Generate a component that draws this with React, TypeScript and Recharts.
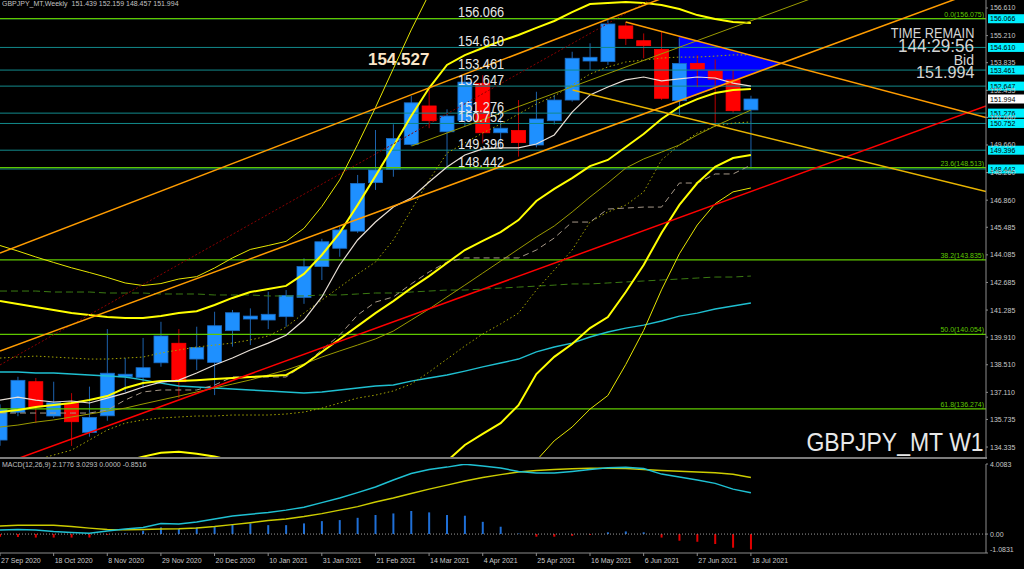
import React from 'react';
import {
  ComposedChart,
  Bar,
  Line,
  XAxis,
  YAxis,
  Cell,
  ReferenceLine,
  ReferenceArea,
  ReferenceDot,
} from 'recharts';

// ─── Data (weekly GBPJPY, 27 Sep 2020 … 18 Jul 2021) ─────────────────────────

const DATE_TICK_IDX = [0, 3, 6, 9, 12, 15, 18, 21, 24, 27, 30, 33, 36, 39, 42];
const DATE_LABELS = [
  '27 Sep 2020', '18 Oct 2020', '8 Nov 2020', '29 Nov 2020', '20 Dec 2020',
  '10 Jan 2021', '31 Jan 2021', '21 Feb 2021', '14 Mar 2021', '4 Apr 2021',
  '25 Apr 2021', '16 May 2021', '6 Jun 2021', '27 Jun 2021', '18 Jul 2021',
];

const OPEN = [134.69, 136.10, 137.65, 135.91, 136.55, 135.08, 135.92, 137.90, 137.87, 138.61, 139.60, 138.80, 138.63, 140.24, 140.83, 140.78, 140.95, 141.93, 143.49, 144.42, 145.29, 147.75, 148.43, 149.69, 151.64, 150.33, 150.90, 152.79, 150.28, 150.39, 149.66, 150.89, 151.94, 153.92, 153.89, 155.70, 154.95, 154.51, 151.91, 153.80, 153.41, 152.96, 151.439];
const HIGH = [136.50, 137.90, 137.84, 137.65, 137.07, 137.40, 140.32, 138.85, 139.87, 140.69, 140.32, 140.44, 141.20, 141.29, 141.37, 142.22, 142.30, 143.91, 144.90, 145.50, 148.14, 150.42, 150.71, 152.14, 152.45, 151.47, 153.25, 153.21, 151.35, 151.94, 152.36, 152.20, 154.39, 154.82, 156.00, 155.91, 155.32, 155.41, 155.07, 154.22, 154.01, 153.46, 152.159];
const LOW = [134.40, 135.90, 135.55, 135.81, 134.39, 134.86, 135.67, 137.14, 137.33, 138.41, 136.82, 138.24, 136.97, 139.43, 139.51, 140.32, 140.44, 141.60, 142.81, 143.99, 145.20, 147.38, 148.05, 149.60, 150.51, 148.56, 150.60, 149.74, 149.54, 149.07, 149.54, 150.70, 151.86, 153.46, 153.72, 154.73, 154.06, 151.95, 151.18, 152.59, 150.67, 151.30, 148.457];
const CLOSE = [136.26, 137.72, 136.38, 136.58, 135.62, 135.84, 138.08, 138.03, 138.36, 139.97, 137.65, 139.39, 140.49, 141.15, 140.98, 141.07, 142.03, 143.49, 144.75, 145.35, 147.71, 148.39, 149.99, 151.80, 150.89, 151.13, 152.85, 150.28, 150.51, 149.78, 150.98, 151.94, 154.06, 154.11, 155.80, 155.07, 154.70, 152.03, 153.80, 153.51, 153.00, 151.40, 151.994];

// Bollinger-style bands
const BAND_MID = [136.11, 136.21, 136.37, 136.47, 136.57, 136.72, 136.92, 137.33, 137.58, 137.68, 137.68, 137.73, 137.79, 137.84, 137.89, 137.94, 137.99, 138.50, 139.16, 139.82, 140.47, 141.13, 141.74, 142.40, 143.01, 143.67, 144.33, 144.79, 145.24, 145.85, 146.82, 147.43, 147.98, 148.59, 148.90, 149.56, 150.22, 150.98, 151.59, 151.99, 152.30, 152.45, 152.50];
const BAND_UP2 = [141.74, 141.59, 141.44, 141.29, 141.14, 141.03, 140.93, 140.88, 140.88, 140.98, 141.13, 141.23, 141.54, 141.90, 142.20, 142.35, 142.51, 143.12, 144.08, 145.20, 146.61, 148.08, 149.60, 151.13, 152.55, 153.72, 154.22, 154.58, 154.93, 155.24, 155.60, 155.95, 156.40, 156.81, 156.87, 156.92, 156.87, 156.76, 156.56, 156.25, 156.05, 155.90, 155.85];
const BAND_LO2 = [130.48, 130.83, 131.30, 131.65, 132.00, 132.41, 132.91, 133.60, 133.85, 134.05, 134.10, 134.00, 133.85, 133.65, 133.40, 133.30, 133.20, 133.30, 133.50, 133.60, 133.60, 133.50, 133.30, 133.30, 133.40, 133.62, 134.44, 135.00, 135.55, 136.46, 138.04, 138.91, 139.56, 140.37, 140.93, 142.20, 143.57, 145.20, 146.62, 147.73, 148.55, 149.00, 149.15];
const BAND_UP3 = [144.56, 144.28, 143.98, 143.70, 143.43, 143.19, 142.94, 142.66, 142.53, 142.63, 142.86, 142.98, 143.42, 143.93, 144.36, 144.56, 144.77, 145.43, 146.54, 147.89, 149.68, 151.56, 153.53, 155.50, 157.32, 158.75, 159.17, 159.48, 159.78, 159.94, 159.99, 160.21, 160.61, 160.92, 160.86, 160.60, 160.20, 159.65, 159.05, 158.38, 157.93, 157.63, 157.53];
const BAND_LO3 = [127.67, 128.14, 128.77, 129.24, 129.72, 130.26, 130.91, 132.01, 132.63, 132.73, 132.51, 132.48, 132.17, 131.75, 131.42, 131.33, 131.21, 131.57, 131.78, 131.75, 131.26, 130.71, 129.95, 129.31, 128.70, 128.60, 129.50, 130.10, 130.70, 131.77, 133.65, 134.65, 135.35, 136.26, 136.95, 138.52, 140.25, 142.31, 144.14, 145.60, 146.68, 147.28, 147.48];

// Other moving averages
const MA_WHITE = [136.72, 136.87, 136.72, 136.62, 136.67, 136.57, 136.82, 137.07, 137.38, 137.63, 137.73, 138.09, 138.50, 138.85, 139.26, 139.61, 140.01, 140.78, 141.95, 143.57, 144.84, 145.75, 146.51, 146.97, 147.78, 148.54, 149.15, 149.46, 149.51, 149.51, 149.71, 150.17, 151.33, 152.20, 152.60, 152.96, 153.11, 152.91, 153.01, 153.11, 153.06, 152.80, 152.65];
const MA_GREY_DASH = [136.06, 136.06, 136.06, 136.06, 136.06, 136.06, 136.21, 136.72, 137.13, 137.23, 137.23, 137.23, 137.48, 137.89, 137.89, 137.89, 137.89, 138.50, 139.26, 140.02, 141.03, 141.69, 141.95, 142.61, 143.22, 143.72, 143.93, 143.93, 143.93, 143.93, 144.33, 144.94, 145.75, 145.75, 146.41, 146.46, 146.51, 146.51, 147.73, 147.73, 148.19, 148.19, 148.64];
const MA_OLIVE = [135.35, 135.45, 135.60, 135.71, 135.86, 136.01, 136.16, 136.31, 136.52, 136.72, 136.92, 137.13, 137.33, 137.53, 137.74, 137.99, 138.24, 138.55, 138.90, 139.21, 139.51, 139.82, 140.22, 140.78, 141.34, 141.95, 142.55, 143.16, 143.77, 144.38, 144.99, 145.55, 146.26, 147.02, 147.73, 148.49, 148.95, 149.30, 149.66, 150.17, 150.62, 151.03, 151.43];
const MA_DOT_UP = [138.85, 138.90, 138.95, 138.90, 138.85, 138.80, 138.80, 138.85, 138.90, 139.11, 139.26, 139.41, 139.51, 139.61, 139.77, 139.97, 140.42, 141.13, 141.79, 142.45, 143.11, 143.72, 144.84, 146.36, 147.88, 149.25, 149.76, 150.27, 150.72, 151.23, 151.74, 152.14, 152.70, 153.26, 153.62, 153.87, 153.97, 154.07, 154.12, 154.12, 154.17, 154.23, 154.23];
const MA_DOT_LO = [133.17, 133.42, 133.68, 133.93, 134.18, 134.69, 135.20, 135.55, 135.71, 135.81, 135.86, 135.91, 135.91, 135.96, 135.96, 135.96, 136.01, 136.11, 136.31, 136.57, 136.82, 136.97, 137.18, 137.53, 138.14, 138.80, 139.46, 140.07, 140.58, 141.13, 142.30, 143.32, 144.33, 145.75, 146.26, 146.61, 147.27, 148.90, 149.66, 150.27, 150.62, 150.77, 150.83];
const MA_CYAN = [138.14, 138.14, 138.09, 138.09, 138.04, 137.99, 137.94, 137.89, 137.74, 137.58, 137.43, 137.38, 137.33, 137.28, 137.23, 137.18, 137.13, 137.08, 137.13, 137.23, 137.33, 137.43, 137.48, 137.68, 137.84, 137.99, 138.19, 138.40, 138.60, 138.80, 139.16, 139.41, 139.61, 139.92, 140.17, 140.37, 140.52, 140.73, 140.98, 141.13, 141.34, 141.49, 141.64];
const MA_GREEN_DASH = [142.25, 142.25, 142.25, 142.20, 142.20, 142.20, 142.15, 142.15, 142.15, 142.10, 142.10, 142.10, 142.05, 142.05, 142.05, 142.00, 142.00, 142.00, 142.05, 142.05, 142.10, 142.15, 142.15, 142.20, 142.25, 142.30, 142.30, 142.35, 142.40, 142.45, 142.50, 142.55, 142.61, 142.61, 142.66, 142.71, 142.76, 142.81, 142.86, 142.91, 142.96, 142.96, 143.01];

// MACD(12,26,9)
const MACD_MAIN = [0.23, 0.26, 0.23, 0.14, 0.09, 0.04, 0.17, 0.29, 0.38, 0.60, 0.57, 0.69, 0.86, 1.03, 1.14, 1.23, 1.37, 1.54, 1.80, 2.06, 2.37, 2.69, 3.09, 3.46, 3.69, 3.83, 4.0, 3.89, 3.78, 3.58, 3.49, 3.49, 3.58, 3.69, 3.80, 3.82, 3.75, 3.43, 3.26, 3.09, 2.90, 2.57, 2.36];
const MACD_SIGNAL = [0.46, 0.50, 0.51, 0.50, 0.43, 0.34, 0.26, 0.24, 0.26, 0.29, 0.30, 0.35, 0.43, 0.54, 0.65, 0.77, 0.86, 1.00, 1.17, 1.37, 1.57, 1.83, 2.06, 2.32, 2.57, 2.80, 3.03, 3.23, 3.40, 3.55, 3.63, 3.69, 3.73, 3.76, 3.76, 3.75, 3.69, 3.64, 3.60, 3.55, 3.51, 3.42, 3.24];
const MACD_HIST = [-0.15, -0.17, -0.2, -0.2, -0.2, -0.2, -0.05, 0.04, 0.19, 0.38, 0.29, 0.38, 0.46, 0.55, 0.61, 0.51, 0.51, 0.61, 0.74, 0.80, 0.93, 1.09, 1.18, 1.32, 1.24, 1.09, 1.05, 0.70, 0.42, 0.03, -0.15, -0.15, -0.1, -0.05, 0.1, 0.15, 0.1, -0.2, -0.38, -0.44, -0.57, -0.78, -0.88];
const MACD_TICKS = [4.0083, 0, -1.0831];
const MACD_TICK_LABELS = ['4.0083', '0.00', '-1.0831'];

// Horizontal levels
const TEAL_LEVELS = [156.066, 154.610, 153.461, 152.647, 151.276, 150.752, 149.396, 148.442];
const FIB_PCTS = ['0.0', '23.6', '38.2', '50.0', '61.8'];
const FIB_LEVELS = [156.075, 148.513, 143.835, 140.054, 136.274];
const BID = 151.994;
const MARKED_HIGH = 154.527;

const PRICE_TICKS = [156.61, 155.21, 153.835, 152.435, 151.06, 149.66, 148.26, 146.86, 145.485, 144.085, 142.685, 141.285, 139.91, 138.51, 137.11, 135.735, 134.335];

// Trend lines: [weekIndex, price] pairs
const TREND_ORANGE_A = [[0, 144.18], [37, 157.09]];
const TREND_ORANGE_B = [[0, 139.21], [55.15, 157.63]];
const TREND_ORANGE_C = [[35.0, 155.9], [55.15, 151.05]];
const TREND_GOLD = [[32.03, 152.45], [55.15, 147.3]];
const TREND_OLIVE = [[23.03, 149.61], [55.15, 160.36]];
const TREND_RED = [[0, 133.42], [55.15, 151.64]];
const TREND_RED_DOT = [[0, 138.5], [36.34, 157.02]];

// Triangle object: left edge x, apex x, top-left, bottom-left and apex prices
const TRIANGLE = { x1: 37.96, x2: 43.66, top: 155.19, bottom: 151.84, apex: 153.82 };

const X_DOMAIN = [0, 55.15];
const PRICE_DOMAIN = [133.83, 157.016];
const MACD_DOMAIN = [-1.0831, 4.0083];
const LEVEL_TEXT_X = 25.62;
const MARK_TEXT_X = 20.58;
const MARK_TEXT_Y = 153.72;

// ─── Styles ───────────────────────────────────────────────────────────────────

const FONT = '"Liberation Sans", Arial, sans-serif';
const AXIS_GREY = '#8c8c8c';
const TICK_TEXT = '#c8c8c8';

// ─── Table ────────────────────────────────────────────────────────────────────

const priceRows = OPEN.map((open, i) => ({
  i,
  open,
  high: HIGH[i],
  low: LOW[i],
  close: CLOSE[i],
  range: [LOW[i], HIGH[i]],
  mid: BAND_MID[i],
  up2: BAND_UP2[i],
  lo2: BAND_LO2[i],
  up3: BAND_UP3[i],
  lo3: BAND_LO3[i],
  white: MA_WHITE[i],
  greyDash: MA_GREY_DASH[i],
  olive: MA_OLIVE[i],
  dotUp: MA_DOT_UP[i],
  dotLo: MA_DOT_LO[i],
  cyan: MA_CYAN[i],
  greenDash: MA_GREEN_DASH[i],
}));

const macdRows = MACD_MAIN.map((m, i) => ({
  i,
  macd: m,
  signal: MACD_SIGNAL[i],
  hist: MACD_HIST[i],
}));

// ─── Shapes ───────────────────────────────────────────────────────────────────

function Candle(props: any) {
  const { x, y, width, height, payload } = props;
  if (payload == null) return null;
  const { open, close, high, low } = payload;
  const yTop = Math.min(y, y + height);
  const h = Math.abs(height);
  const per = h / (high - low || 1);
  const bodyTop = yTop + (high - Math.max(open, close)) * per;
  const bodyBot = yTop + (high - Math.min(open, close)) * per;
  const cx = x + width / 2;
  const up = close >= open;
  return (
    <g>
      <line x1={cx} x2={cx} y1={yTop} y2={yTop + h} stroke={up ? '#1d62ad' : '#b80000'} strokeWidth={1} />
      <rect
        x={x}
        y={bodyTop}
        width={width}
        height={Math.max(bodyBot - bodyTop, 1.5)}
        fill={up ? '#1e90ff' : '#ff0000'}
        stroke={up ? '#1a6cc4' : '#ff0000'}
        strokeWidth={0.8}
      />
    </g>
  );
}

function Triangle(props: any) {
  const { x, y, width, height } = props;
  const apexY = y + ((TRIANGLE.top - TRIANGLE.apex) / (TRIANGLE.top - TRIANGLE.bottom)) * height;
  return <polygon points={`${x},${y} ${x},${y + height} ${x + width},${apexY}`} fill="#0000ff" />;
}

function PriceTag(props: any) {
  const { viewBox, text, bg } = props;
  if (!viewBox) return null;
  const right = viewBox.x + viewBox.width;
  return (
    <g>
      <rect x={right + 2} y={viewBox.y - 4.5} width={36} height={9} fill={bg} />
      <text x={right + 4} y={viewBox.y + 2.6} fontSize={7} fontFamily={FONT} fill="#000">
        {text}
      </text>
    </g>
  );
}

function FibTag(props: any) {
  const { viewBox, text } = props;
  if (!viewBox) return null;
  return (
    <text
      x={viewBox.x + viewBox.width - 2}
      y={viewBox.y - 2}
      textAnchor="end"
      fontSize={7}
      fontFamily={FONT}
      fill="#5fc800"
    >
      {text}
    </text>
  );
}

function DateTick(props: any) {
  const { x, y, payload } = props;
  const k = DATE_TICK_IDX.indexOf(payload.value);
  return (
    <text x={x + 1} y={y + 5} fontSize={7} fontFamily={FONT} fill={TICK_TEXT}>
      {DATE_LABELS[k]}
    </text>
  );
}

function MacdTick(props: any) {
  const { x, y, payload } = props;
  const k = MACD_TICKS.indexOf(payload.value);
  const lift = payload.value < 0 ? -4 : 0;
  return (
    <text x={x} y={y + 2.5 + lift} fontSize={7} fontFamily={FONT} fill={TICK_TEXT}>
      {MACD_TICK_LABELS[k]}
    </text>
  );
}

const seg = (pts: number[][]) => pts.map(([x, y]) => ({ x, y }));

function series(key: string, stroke: string, width = 1, dash?: string) {
  return (
    <Line
      key={key}
      dataKey={key}
      type="linear"
      stroke={stroke}
      strokeWidth={width}
      strokeDasharray={dash}
      dot={false}
      activeDot={false}
      isAnimationActive={false}
    />
  );
}

// ─── Component ────────────────────────────────────────────────────────────────

export default function App() {
  return (
    <div style={{ position: 'absolute', left: 0, top: 0, width: 1024, height: 569, background: '#000', overflow: 'hidden', fontFamily: FONT }}>
      <div style={{ position: 'absolute', left: 0, top: 0 }}>
        <ComposedChart width={1024} height={457} data={priceRows} margin={{ top: 0, right: 0, bottom: 0, left: 0 }}>
          <XAxis type="number" dataKey="i" domain={X_DOMAIN} hide allowDataOverflow />
          <YAxis
            orientation="right"
            width={38}
            domain={PRICE_DOMAIN}
            allowDataOverflow
            ticks={PRICE_TICKS}
            interval={0}
            tickFormatter={(v: number) => v.toFixed(3)}
            tick={{ fill: TICK_TEXT, fontSize: 7, fontFamily: FONT }}
            tickSize={2}
            tickLine={{ stroke: AXIS_GREY }}
            axisLine={{ stroke: AXIS_GREY }}
          />

          <ReferenceArea
            x1={TRIANGLE.x1}
            x2={TRIANGLE.x2}
            y1={TRIANGLE.bottom}
            y2={TRIANGLE.top}
            shape={Triangle}
            ifOverflow="visible"
          />

          <Bar dataKey="range" barSize={14} shape={Candle} isAnimationActive={false} />

          {TEAL_LEVELS.map((v) => (
            <ReferenceLine
              key={`teal-${v}`}
              y={v}
              stroke="#128a8c"
              strokeWidth={1}
              label={<PriceTag text={v.toFixed(3)} bg="#00f0ff" />}
            />
          ))}
          {FIB_LEVELS.map((v, k) => (
            <ReferenceLine
              key={`fib-${v}`}
              y={v}
              stroke="#5fc800"
              strokeWidth={1.3}
              label={<FibTag text={`${FIB_PCTS[k]}(${v.toFixed(3)})`} />}
            />
          ))}
          <ReferenceLine y={BID} stroke="none" label={<PriceTag text={BID.toFixed(3)} bg="#ffffff" />} />

          {series('greenDash', '#3b7a12', 1, '7 4')}
          {series('cyan', '#1fbfd0', 1.4)}
          {series('olive', '#9a9a00', 1)}
          {series('dotUp', '#a6a600', 1, '1.5 2.5')}
          {series('dotLo', '#a6a600', 1, '1.5 2.5')}
          {series('greyDash', '#a69888', 1, '6 4')}
          {series('lo3', '#e6e600', 1)}
          {series('up3', '#e6e600', 1)}
          {series('lo2', '#ffff00', 2)}
          {series('up2', '#ffff00', 2)}
          {series('mid', '#ffff00', 2)}
          {series('white', '#e8dfd6', 1.2)}

          <ReferenceLine segment={seg(TREND_RED_DOT)} stroke="#8a0000" strokeDasharray="2 2" ifOverflow="hidden" />
          <ReferenceLine segment={seg(TREND_RED)} stroke="#ff0000" strokeWidth={1.5} ifOverflow="hidden" />
          <ReferenceLine segment={seg(TREND_OLIVE)} stroke="#9a9a00" ifOverflow="hidden" />
          <ReferenceLine segment={seg(TREND_GOLD)} stroke="#e8b400" strokeWidth={1.5} ifOverflow="hidden" />
          <ReferenceLine segment={seg(TREND_ORANGE_A)} stroke="#ff9c00" strokeWidth={1.5} ifOverflow="hidden" />
          <ReferenceLine segment={seg(TREND_ORANGE_B)} stroke="#ff9c00" strokeWidth={1.5} ifOverflow="hidden" />
          <ReferenceLine segment={seg(TREND_ORANGE_C)} stroke="#ff9c00" strokeWidth={1.5} ifOverflow="hidden" />

          {TEAL_LEVELS.map((v) => (
            <ReferenceDot
              key={`txt-${v}`}
              x={LEVEL_TEXT_X}
              y={v}
              r={0}
              ifOverflow="visible"
              shape={(p: any) => (
                <text
                  transform={`translate(${p.cx},${p.cy - 1.5}) scale(0.85,1)`}
                  fontSize={15}
                  fontFamily={FONT}
                  fill="#e8e8e8"
                >
                  {v.toFixed(3)}
                </text>
              )}
            />
          ))}
          <ReferenceDot
            x={MARK_TEXT_X}
            y={MARK_TEXT_Y}
            r={0}
            ifOverflow="visible"
            shape={(p: any) => (
              <text x={p.cx} y={p.cy} fontSize={17} fontWeight="bold" fontFamily={FONT} fill="#fbe6c8">
                {MARKED_HIGH.toFixed(3)}
              </text>
            )}
          />
        </ComposedChart>
      </div>

      <div style={{ position: 'absolute', left: 0, top: 457, width: 987, height: 2, background: '#7c7c7c' }} />

      <div style={{ position: 'absolute', left: 0, top: 457 }}>
        <ComposedChart width={1024} height={112} data={macdRows} margin={{ top: 7, right: 0, bottom: 0, left: 0 }}>
          <XAxis
            type="number"
            dataKey="i"
            domain={X_DOMAIN}
            allowDataOverflow
            ticks={DATE_TICK_IDX}
            interval={0}
            height={16}
            tickSize={3}
            tick={<DateTick />}
            tickLine={{ stroke: AXIS_GREY }}
            axisLine={{ stroke: AXIS_GREY }}
          />
          <YAxis
            orientation="right"
            width={38}
            domain={MACD_DOMAIN}
            allowDataOverflow
            ticks={MACD_TICKS}
            interval={0}
            tickSize={2}
            tick={<MacdTick />}
            tickLine={{ stroke: AXIS_GREY }}
            axisLine={{ stroke: AXIS_GREY }}
          />
          <ReferenceLine y={0} stroke="#9a9a9a" strokeDasharray="1 2" />
          <Bar dataKey="hist" barSize={2} isAnimationActive={false}>
            {MACD_HIST.map((v, k) => (
              <Cell key={k} fill={v >= 0 ? '#1f6fd6' : '#e00000'} />
            ))}
          </Bar>
          <Line dataKey="signal" type="linear" stroke="#cccc00" strokeWidth={1.5} dot={false} activeDot={false} isAnimationActive={false} />
          <Line dataKey="macd" type="linear" stroke="#1fc0d2" strokeWidth={1.5} dot={false} activeDot={false} isAnimationActive={false} />
        </ComposedChart>
      </div>

      <div style={{ position: 'absolute', left: 2, top: 0, fontSize: 7, color: '#c0c0c0', whiteSpace: 'nowrap' }}>
        GBPJPY_MT,Weekly&nbsp; 151.439 152.159 148.457 151.994
      </div>
      <div style={{ position: 'absolute', left: 2, top: 461, fontSize: 7, color: '#c0c0c0', whiteSpace: 'nowrap' }}>
        MACD(12,26,9) 2.1776 3.0293 0.0000 -0.8516
      </div>

      <div style={{ position: 'absolute', right: 50, top: 25, fontSize: 15, lineHeight: '15px', color: '#d4d4d4', whiteSpace: 'nowrap', transform: 'scaleX(0.85)', transformOrigin: 'right top' }}>
        TIME REMAIN
      </div>
      <div style={{ position: 'absolute', right: 50, top: 37, fontSize: 18, lineHeight: '18px', color: '#d4d4d4', whiteSpace: 'nowrap', transform: 'scaleX(0.95)', transformOrigin: 'right top' }}>
        144:29:56
      </div>
      <div style={{ position: 'absolute', right: 50, top: 53, fontSize: 14, lineHeight: '14px', color: '#d4d4d4', whiteSpace: 'nowrap' }}>
        Bid
      </div>
      <div style={{ position: 'absolute', right: 50, top: 64, fontSize: 17, lineHeight: '17px', color: '#d4d4d4', whiteSpace: 'nowrap', transform: 'scaleX(0.95)', transformOrigin: 'right top' }}>
        151.994
      </div>
      <div style={{ position: 'absolute', right: 40, top: 430, fontSize: 25, lineHeight: '25px', color: '#e8e8e8', whiteSpace: 'nowrap', transform: 'scaleX(0.92)', transformOrigin: 'right top' }}>
        GBPJPY_MT W1
      </div>
    </div>
  );
}
